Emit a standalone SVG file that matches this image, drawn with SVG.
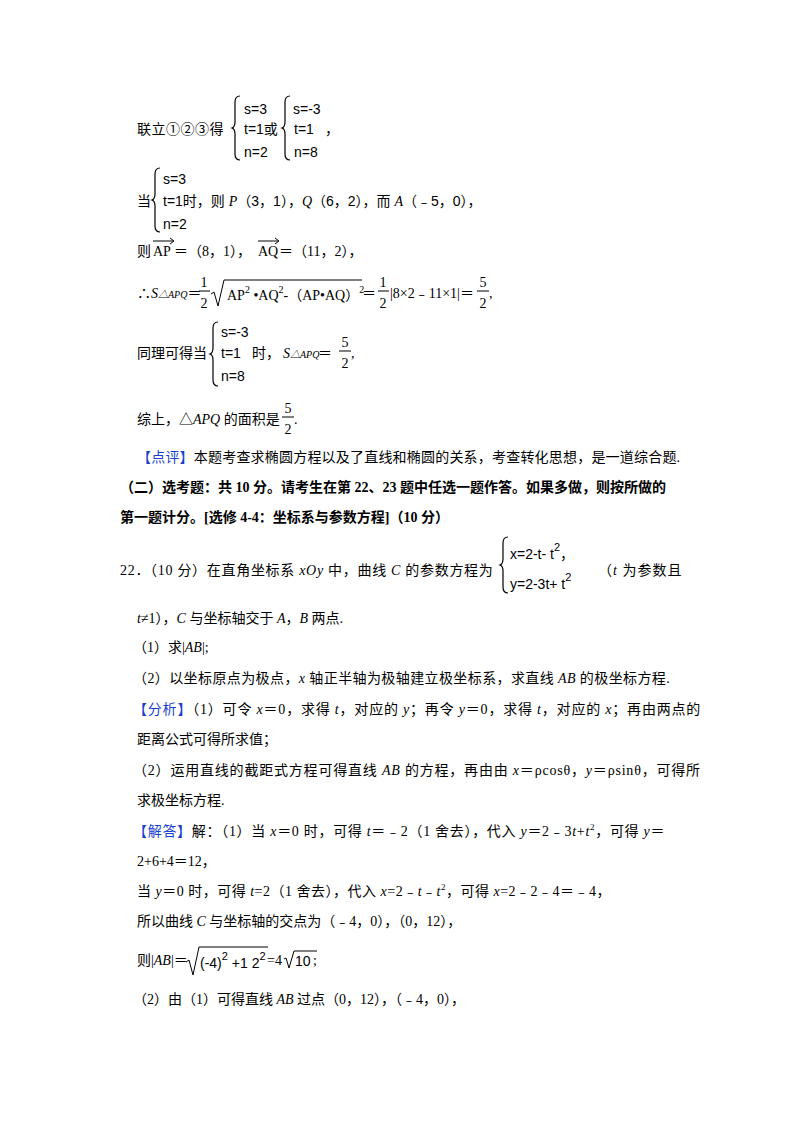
<svg xmlns="http://www.w3.org/2000/svg" width="800" height="1132" viewBox="0 0 800 1132">
<style>
text{font-family:"Liberation Serif","Noto Sans CJK SC",serif;font-size:14px;fill:#000}
.s{font-family:"Liberation Sans","Noto Sans CJK SC",sans-serif;font-size:14px}
.b{font-weight:bold}
.blue{fill:#1a3fd0}
.i{font-style:italic}
.br{fill:none;stroke:#000;stroke-width:1.2}
</style>
<rect width="800" height="1132" fill="#fff"/>
<defs><path id="br3" class="br" d="M8,0 Q3,0 3,6 L3,26 Q3,31 0,32 Q3,33 3,38 L3,58 Q3,64 8,64"/>
<path id="br2" class="br" d="M8,0 Q3,0 3,6 L3,22 Q3,27 0,28 Q3,29 3,34 L3,50 Q3,56 8,56"/></defs>
<g id="l1">
<text x="137" y="134" letter-spacing="0.5">联立①②③得</text>
<use href="#br3" x="232" y="96"/>
<text class="s" x="244" y="114">s=3</text><text class="s" x="244" y="134">t=1或</text><text class="s" x="244" y="157">n=2</text>
<use href="#br3" x="282" y="96"/>
<text class="s" x="293" y="114">s=-3</text><text class="s" x="294" y="134">t=1</text><text x="325" y="134">，</text><text class="s" x="294" y="157">n=8</text>
</g>
<g id="l2">
<text x="137" y="206">当</text>
<use href="#br3" x="152" y="168"/>
<text class="s" x="163" y="184">s=3</text><text class="s" x="163" y="206">t=1时，则 <tspan class="i" font-family="Liberation Serif">P</tspan>（3，1），<tspan class="i" font-family="Liberation Serif">Q</tspan>（6，2），而 <tspan class="i" font-family="Liberation Serif">A</tspan>（﹣5，0），</text><text class="s" x="163" y="229">n=2</text>
</g>
<g id="l3">
<text x="137" y="256">则</text><text x="153" y="256">AP</text><line x1="153" y1="241" x2="173" y2="241" stroke="#000"/><path d="M170,238 L174,241 L170,244" fill="none" stroke="#000"/>
<text x="174" y="256">＝（8，1），</text><text x="258" y="256">AQ</text><line x1="258" y1="241" x2="278" y2="241" stroke="#000"/><path d="M275,238 L279,241 L275,244" fill="none" stroke="#000"/>
<text x="279" y="256">＝（11，2），</text>
</g>
<g id="l4">
<text x="137" y="298">∴<tspan class="i">S</tspan><tspan font-size="10" class="i">△APQ</tspan>＝</text>
<text x="204" y="287" text-anchor="middle" font-size="15">1</text><line x1="199" y1="291" x2="210" y2="291" stroke="#000"/><text x="204" y="308" text-anchor="middle" font-size="15">2</text>
<path d="M211,294 L214,292 L218,306 L224,280 L362,280" fill="none" stroke="#000"/>
<text x="227" y="300">AP<tspan dy="-7" font-size="10">2</tspan><tspan dy="7"> •AQ</tspan><tspan dy="-7" font-size="10">2</tspan><tspan dy="7">-（AP•AQ）</tspan><tspan dy="-7" font-size="10">2</tspan></text>
<text x="362" y="298">＝</text>
<text x="383" y="287" text-anchor="middle" font-size="15">1</text><line x1="378" y1="291" x2="389" y2="291" stroke="#000"/><text x="383" y="308" text-anchor="middle" font-size="15">2</text>
<text x="390" y="298">|8×2﹣11×1|＝</text>
<text x="483" y="287" text-anchor="middle" font-size="15">5</text><line x1="477" y1="291" x2="489" y2="291" stroke="#000"/><text x="483" y="308" text-anchor="middle" font-size="15">2</text><text x="489" y="298">,</text>
</g>
<g id="l5">
<text x="137" y="358">同理可得当</text>
<use href="#br3" x="210" y="322"/>
<text class="s" x="221" y="337">s=-3</text><text class="s" x="221" y="358">t=1</text><text class="s" x="252" y="358">时，</text>
<text x="283" y="358" class="i">S<tspan font-size="10">△APQ</tspan></text><text x="318" y="358">＝</text>
<text x="345" y="347" text-anchor="middle" font-size="15">5</text><line x1="339" y1="351" x2="351" y2="351" stroke="#000"/><text x="345" y="368" text-anchor="middle" font-size="15">2</text><text x="351" y="358">,</text>
</g>
<text class="s" x="221" y="381">n=8</text>
<g id="l6">
<text x="137" y="424">综上，△<tspan class="i">APQ</tspan> 的面积是</text>
<text x="288" y="413" text-anchor="middle" font-size="15">5</text><line x1="282" y1="417" x2="294" y2="417" stroke="#000"/><text x="288" y="434" text-anchor="middle" font-size="15">2</text><text x="294" y="424">.</text>
</g>
<text x="137" y="462" letter-spacing="0.2"><tspan class="blue">【点评】</tspan>本题考查求椭圆方程以及了直线和椭圆的关系，考查转化思想，是一道综合题.</text>
<text x="120" y="492" class="b">（二）选考题：共 10 分。请考生在第 22、23 题中任选一题作答。如果多做，则按所做的</text>
<text x="120" y="522" class="b">第一题计分。[选修 4-4：坐标系与参数方程]（10 分）</text>
<g id="q22">
<text x="120" y="575" letter-spacing="0.7">22．（10 分）在直角坐标系 <tspan class="i">xOy</tspan> 中，曲线 <tspan class="i">C</tspan> 的参数方程为</text>
<use href="#br2" x="500" y="537"/>
<text class="s" x="510" y="559">x=2-t- t<tspan dy="-8" font-size="11">2</tspan><tspan dy="8">，</tspan></text>
<text class="s" x="510" y="589">y=2-3t+ t<tspan dy="-8" font-size="11">2</tspan></text>
<text x="598" y="575" letter-spacing="1">（<tspan class="i">t</tspan> 为参数且</text>
</g>
<text x="137" y="623"><tspan class="i">t</tspan>≠1），<tspan class="i">C</tspan> 与坐标轴交于 <tspan class="i">A</tspan>，<tspan class="i">B</tspan> 两点.</text>
<text x="133" y="652">（1）求|<tspan class="i">AB</tspan>|;</text>
<text x="133" y="683" letter-spacing="0.4">（2）以坐标原点为极点，<tspan class="i">x</tspan> 轴正半轴为极轴建立极坐标系，求直线 <tspan class="i">AB</tspan> 的极坐标方程.</text>
<text x="133" y="714" letter-spacing="0.8"><tspan class="blue">【分析】</tspan>（1）可令 <tspan class="i">x</tspan>＝0，求得 <tspan class="i">t</tspan>，对应的 <tspan class="i">y</tspan>；再令 <tspan class="i">y</tspan>＝0，求得 <tspan class="i">t</tspan>，对应的 <tspan class="i">x</tspan>；再由两点的</text>
<text x="137" y="744">距离公式可得所求值；</text>
<text x="133" y="775" letter-spacing="0.8">（2）运用直线的截距式方程可得直线 <tspan class="i">AB</tspan> 的方程，再由由 <tspan class="i">x</tspan>＝ρcosθ，<tspan class="i">y</tspan>＝ρsinθ，可得所</text>
<text x="137" y="805">求极坐标方程.</text>
<text x="133" y="836" letter-spacing="0.7"><tspan class="blue">【解答】</tspan>解：（1）当 <tspan class="i">x</tspan>＝0 时，可得 <tspan class="i">t</tspan>＝﹣2（1 舍去），代入 <tspan class="i">y</tspan>＝2﹣3<tspan class="i">t</tspan>+<tspan class="i">t</tspan><tspan dy="-6" font-size="9">2</tspan><tspan dy="6">，可得 </tspan><tspan class="i">y</tspan>＝</text>
<text x="137" y="866">2+6+4＝12，</text>
<text x="137" y="896" letter-spacing="0.5">当 <tspan class="i">y</tspan>＝0 时，可得 <tspan class="i">t</tspan>=2（1 舍去），代入 <tspan class="i">x</tspan>=2﹣<tspan class="i">t</tspan>﹣<tspan class="i">t</tspan><tspan dy="-6" font-size="9">2</tspan><tspan dy="6">，可得 </tspan><tspan class="i">x</tspan>=2﹣2﹣4＝﹣4，</text>
<text x="137" y="926">所以曲线 <tspan class="i">C</tspan> 与坐标轴的交点为（﹣4，0），（0，12），</text>
<g id="ab">
<text x="137" y="965">则|<tspan class="i">AB</tspan>|＝</text>
<path d="M186,962 L189,960 L193,975 L199,947 L268,947" fill="none" stroke="#000"/>
<text class="s" x="200" y="968">(-4)<tspan dy="-8" font-size="11">2</tspan><tspan dy="8"> +1 2</tspan><tspan dy="-8" font-size="11">2</tspan></text>
<text x="267" y="965">=4</text>
<path d="M284,959 L286,958 L289,968 L294,951 L317,951" fill="none" stroke="#000"/>
<text class="s" x="295" y="966">10</text><text x="313" y="965">;</text>
</g>
<text x="133" y="1004">（2）由（1）可得直线 <tspan class="i">AB</tspan> 过点（0，12），（﹣4，0），</text>
</svg>
